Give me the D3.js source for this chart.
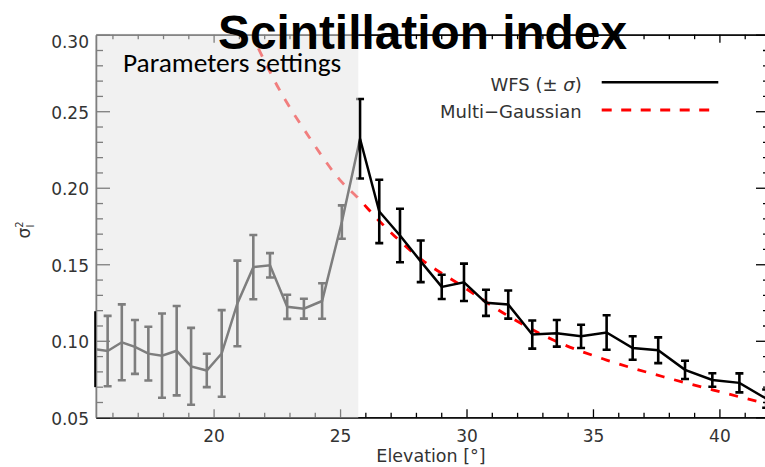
<!DOCTYPE html>
<html>
<head>
<meta charset="utf-8">
<script src="https://cdn.jsdelivr.net/npm/d3@7"></script>
<style>
  html, body { margin: 0; padding: 0; background: #fff; }
  svg { display: block; }
  .tick text { font-family: "DejaVu Sans", sans-serif; font-size: 17px; fill: #333; }
</style>
</head>
<body>
<svg id="chart" width="765" height="467"></svg>
<script>
// WFS scintillation index vs elevation
var elevation = [15.33, 15.81, 16.37, 16.89, 17.42, 17.96, 18.54, 19.11, 19.73, 20.32, 20.94, 21.57, 22.23, 22.91, 23.57, 24.29, 25.07,
                 25.79, 26.55, 27.37, 28.19, 29.02, 29.90, 30.77, 31.65, 32.60, 33.57, 34.53, 35.54, 36.57, 37.58, 38.64, 39.72, 40.79, 41.85];
var wfs = [0.0945, 0.0933, 0.0990, 0.0960, 0.0916, 0.0903, 0.0935, 0.0833, 0.0806, 0.0917, 0.1244, 0.1481, 0.1493, 0.1222, 0.1210, 0.1260, 0.1776,
           0.2320, 0.1845, 0.1688, 0.1519, 0.1352, 0.1382, 0.1248, 0.1237, 0.1041, 0.1049, 0.1029, 0.1054, 0.0953, 0.0938, 0.0810, 0.0744, 0.0725, 0.0622];
var wfsSigma = [0.0248, 0.0230, 0.0248, 0.0176, 0.0176, 0.0275, 0.0292, 0.0251, 0.0109, 0.0283, 0.0280, 0.0210, 0.0080, 0.0079, 0.0065, 0.0116, 0.0109,
                0.0260, 0.0207, 0.0175, 0.0136, 0.0079, 0.0122, 0.0085, 0.0092, 0.0092, 0.0087, 0.0076, 0.0113, 0.0077, 0.0084, 0.0060, 0.0044, 0.0062, 0.0060];

// multi-gaussian model curve
var modelElevation = [21.77, 22.52, 23.81, 25.00, 25.72, 26.58, 28.16, 29.87, 31.59, 33.43, 35.54, 37.78, 39.76, 41.60, 41.98];
var modelValue = [0.2910, 0.2665, 0.2323, 0.2050, 0.1931, 0.1778, 0.1539, 0.1353, 0.1168, 0.1005, 0.0874, 0.0765, 0.0678, 0.0600, 0.0585];

// shaded "parameters settings" range
var settingsRange = [15.35, 25.72];

var xTicks = [20, 25, 30, 35, 40];
var yTicks = [0.05, 0.10, 0.15, 0.20, 0.25, 0.30];
var xDomain = [15.35, 42];
var yDomain = [0.05, 0.30];

var svg = d3.select("#chart");
var plotLeft = 96, plotRight = 770, plotTop = 34.7, plotBottom = 417.3;

var x = d3.scaleLinear().domain(xDomain).range([plotLeft, plotRight]);
var y = d3.scaleLinear().domain(yDomain).range([plotBottom, plotTop]);

var xMinor = d3.range(16, 43, 1).filter(function(d){ return xTicks.indexOf(d) < 0; });
var yMinor = d3.range(5, 31, 1).map(function(d){ return d / 100; }).filter(function(d){
	return !yTicks.some(function(t){ return Math.abs(t - d) < 1e-6; });
});

// axes (IDL style, ticks inside on all four sides)
function drawAxis(axis, tx, ty, labels) {
	var g = svg.append("g").attr("transform", "translate(" + tx + "," + ty + ")").call(axis);
	g.select(".domain").attr("stroke", "#000").attr("stroke-width", 1.3);
	g.selectAll(".tick line").attr("stroke", "#000").attr("stroke-width", 1.3);
	if (!labels) g.selectAll(".tick text").remove();
	return g;
}

drawAxis(d3.axisBottom(x).tickValues(xMinor).tickSize(-4.5).tickSizeOuter(0).tickFormat(""), 0, plotBottom, false);
drawAxis(d3.axisTop(x).tickValues(xMinor).tickSize(-4.5).tickSizeOuter(0).tickFormat(""), 0, plotTop, false);
drawAxis(d3.axisLeft(y).tickValues(yMinor).tickSize(-7).tickSizeOuter(0).tickFormat(""), plotLeft, 0, false);
drawAxis(d3.axisRight(y).tickValues(yMinor).tickSize(-7).tickSizeOuter(0).tickFormat(""), plotRight, 0, false);

drawAxis(d3.axisBottom(x).tickValues(xTicks).tickSize(-8).tickSizeOuter(0).tickPadding(13).tickFormat(d3.format("d")), 0, plotBottom, true);
drawAxis(d3.axisTop(x).tickValues(xTicks).tickSize(-8).tickSizeOuter(0), 0, plotTop, false);
var yl = drawAxis(d3.axisLeft(y).tickValues(yTicks).tickSize(-14).tickSizeOuter(0).tickPadding(7).tickFormat(d3.format(".2f")), plotLeft, 0, true);
drawAxis(d3.axisRight(y).tickValues(yTicks).tickSize(-14).tickSizeOuter(0), plotRight, 0, false);

yl.selectAll(".tick text").attr("dy", function(d){ return d === yDomain[1] ? "0.76em" : "0.42em"; });

// model curve
var model = modelElevation.map(function(d, i){ return [d, modelValue[i]]; });
svg.append("path")
	.datum(model)
	.attr("fill", "none")
	.attr("stroke", "#ff0000")
	.attr("stroke-width", 2.8)
	.attr("stroke-dasharray", "9,10")
	.attr("d", d3.line().x(function(d){ return x(d[0]); }).y(function(d){ return y(d[1]); }).curve(d3.curveMonotoneX));

// wfs line + error bars
var pts = elevation.map(function(d, i){ return {e: d, v: wfs[i], s: wfsSigma[i]}; });
svg.append("path")
	.datum(pts)
	.attr("fill", "none")
	.attr("stroke", "#000")
	.attr("stroke-width", 2.5)
	.attr("d", d3.line().x(function(d){ return x(d.e); }).y(function(d){ return y(d.v); }));

var bars = svg.append("g").attr("stroke", "#000").attr("stroke-width", 2.6).attr("fill", "none");
bars.selectAll("path").data(pts).enter().append("path")
	.attr("d", function(d, i){
		var cx = x(d.e), y0 = y(d.v - d.s), y1 = y(d.v + d.s), w = 4;
		// first bar sits on the axis: no caps
		if (i === 0) return "M" + cx + "," + y0 + "V" + y1;
		return "M" + cx + "," + y0 + "V" + y1 +
			"M" + (cx - w) + "," + y1 + "H" + (cx + w) +
			"M" + (cx - w) + "," + y0 + "H" + (cx + w);
	});

// translucent veil over the settings range
svg.append("rect")
	.attr("x", x(settingsRange[0]))
	.attr("y", plotTop - 1)
	.attr("width", x(settingsRange[1]) - x(settingsRange[0]))
	.attr("height", plotBottom - plotTop + 1.5)
	.attr("fill", "#e6e6e6")
	.attr("fill-opacity", 0.55);

svg.append("text")
	.attr("x", 123).attr("y", 72)
	.style("font-family", "Carlito, Calibri, Lato, sans-serif")
	.style("font-size", "27.4px")
	.attr("fill", "#000")
	.text("Parameters settings");

// legend
var lg = svg.append("g").style("font-family", "DejaVu Sans, sans-serif").style("font-size", "18px").attr("fill", "#333");
var wt = lg.append("text").attr("x", 581.7).attr("y", 90.7).attr("text-anchor", "end");
wt.append("tspan").text("WFS (\u00b1 ");
wt.append("tspan").style("font-style", "italic").text("\u03c3");
wt.append("tspan").text(")");
lg.append("text").attr("x", 581.7).attr("y", 118.3).attr("text-anchor", "end").text("Multi\u2212Gaussian");
lg.append("line").attr("x1", 601.7).attr("x2", 718.3).attr("y1", 82.3).attr("y2", 82.3)
	.attr("stroke", "#000").attr("stroke-width", 2.5);
lg.append("line").attr("x1", 601.7).attr("x2", 710).attr("y1", 110).attr("y2", 110)
	.attr("stroke", "#ff0000").attr("stroke-width", 2.8).attr("stroke-dasharray", "10,9.5");

// axis titles
svg.append("text")
	.attr("x", 431).attr("y", 462)
	.attr("text-anchor", "middle")
	.style("font-family", "DejaVu Sans, sans-serif").style("font-size", "17.5px")
	.attr("fill", "#333")
	.text("Elevation [\u00b0]");

var yt = svg.append("text")
	.attr("transform", "translate(30,230) rotate(-90)")
	.attr("text-anchor", "middle")
	.style("font-family", "DejaVu Sans, sans-serif").style("font-size", "17px")
	.attr("fill", "#333");
yt.append("tspan").text("\u03c3");
yt.append("tspan").attr("dy", -7).style("font-size", "10px").text("2");
yt.append("tspan").attr("dx", -6).attr("dy", 11).style("font-size", "10px").text("I");

// title
svg.append("text")
	.attr("x", 218).attr("y", 48.5)
	.style("font-family", "Liberation Sans, Arial, sans-serif")
	.style("font-weight", "bold")
	.style("font-size", "47.8px")
	.attr("fill", "#000")
	.text("Scintillation index");
</script>
</body>
</html>
